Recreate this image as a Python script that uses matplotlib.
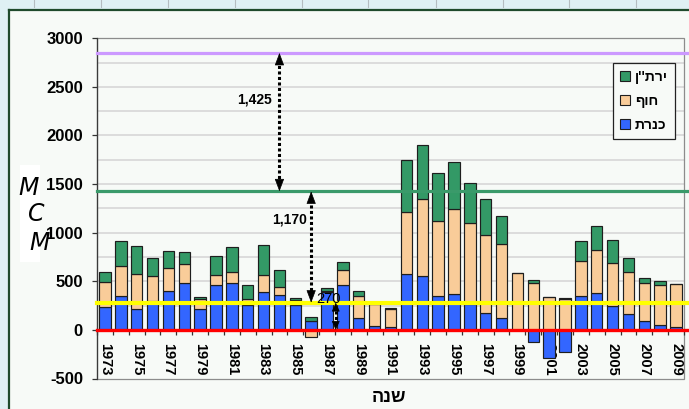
import numpy as np
import matplotlib
matplotlib.use("Agg")
import matplotlib.pyplot as plt
from matplotlib.patches import Rectangle
from matplotlib.lines import Line2D

plt.rcParams["font.family"] = ["Liberation Sans", "DejaVu Sans"]

# ---- data (million cubic metres per year) ----
years = list(range(1973, 2010))
kinneret = [240, 345, 215, 300, 397, 479, 215, 466, 486, 258, 387, 363, 261, 92,
            392, 467, 127, 37, 28, 579, 555, 350, 367, 271, 172, 125, 0, -120,
            -292, -224, 346, 381, 244, 166, 90, 53, 29]
coastal = [250, 310, 356, 251, 236, 199, 100, 102, 113, 64, 178, 79, 51, -78,
           8, 145, 219, 229, 187, 631, 788, 774, 874, 827, 806, 758, 589, 479,
           336, 323, 363, 436, 440, 426, 389, 406, 440]
yarkon = [110, 255, 294, 191, 174, 119, 25, 195, 256, 141, 310, 170, 21, 36,
          35, 89, 59, 8, 8, 536, 560, 492, 488, 416, 369, 289, 0, 38,
          0, 8, 208, 253, 243, 150, 59, 48, 8]
series_names = ["כנרת", "חוף", "ירת''ן"]
series_colors = ["#3366ff", "#f9cc99", "#339966"]

# reference levels and the gaps annotated between them
level_zero = 0
level_low = 280
level_mid = 1425
level_high = 2850
gap_labels = ["1,425", "1,170", "270"]

axis_title = "שנה"
unit_letters = ["M", "C", "M"]


def heb(s):
    """Hebrew runs right-to-left; matplotlib lays glyphs out left-to-right."""
    return s[::-1]


W, H = 689, 409
fig = plt.figure(figsize=(W / 100, H / 100), dpi=100)
fig.patch.set_facecolor("#dff0f4")

# slide panel behind the chart
fig.add_artist(Rectangle((10 / W, 0), 1, 1 - 11 / H, transform=fig.transFigure,
                         facecolor="#f7faf7", edgecolor="none", zorder=0))
fig.add_artist(Line2D([9 / W, 9 / W], [0, 1 - 10 / H], transform=fig.transFigure,
                      color="#1f4a2c", lw=1.6, zorder=1))
fig.add_artist(Line2D([9 / W, 1], [1 - 10 / H, 1 - 10 / H], transform=fig.transFigure,
                      color="#1f4a2c", lw=1.6, zorder=1))
for px in [33.5, 100.7, 167.7, 235, 302, 368.5, 435.7, 502.7, 569, 635.5]:
    fig.add_artist(Line2D([px / W, px / W], [1, 1 - 7 / H], transform=fig.transFigure,
                          color="#b4bcc0", lw=0.8, zorder=1))

ax = fig.add_axes([97 / W, 1 - 378.5 / H, 587 / W, (378.5 - 38.3) / H])
ax.set_facecolor("#f7faf7")
ax.set_xlim(-0.5, len(years) - 0.5)
ax.set_ylim(-500, 3000)

# plot-area frame; the category axis itself sits on zero
for side in ["top", "right", "bottom"]:
    ax.spines[side].set_visible(False)
ax.spines["bottom"].set_position(("data", 0))
ax.spines["left"].set_color("#3a3a3a")
ax.spines["left"].set_linewidth(0.9)
ax.add_patch(Rectangle((0, 0), 1, 1, transform=ax.transAxes, fill=False,
                       edgecolor="#8c8c8c", lw=0.9, zorder=1, clip_on=False))

for v in range(250, 3000, 250):
    ax.axhline(v, color="#d4d4d4", lw=1.1, zorder=0.5)

# stacked bars: positives stack upward from zero, negatives downward
x = np.arange(len(years))
pos_base = np.zeros(len(years))
neg_base = np.zeros(len(years))
handles = []
for vals, color, name in zip([kinneret, coastal, yarkon], series_colors, series_names):
    v = np.array(vals, dtype=float)
    bottom = np.where(v >= 0, pos_base, neg_base)
    ax.bar(x, v, 0.72, bottom=bottom, color=color, edgecolor="#1e1e1e",
           linewidth=0.85, zorder=2)
    pos_base += np.clip(v, 0, None)
    neg_base += np.clip(v, None, 0)
    handles.append(Rectangle((0, 0), 1, 1, facecolor=color, edgecolor="#1e1e1e", lw=0.8))

# reference levels
for lvl, col, lw in [(level_high, "#cc99ff", 2.3), (level_mid, "#3a9a6a", 2.3),
                     (level_low, "#ffff00", 3.0), (level_zero, "#ff0000", 2.4)]:
    ax.axhline(lvl, xmin=0, xmax=1.02, color=col, lw=lw, zorder=3, clip_on=False)


def gap_arrow(xpos, y0, y1, head, hl, hw):
    """Dotted shaft between two levels with a solid head at each end."""
    ax.plot([xpos, xpos], [y0 + head * 0.6, y1 - head * 0.6], color="black",
            lw=2.2, linestyle=(0, (1, 0.8)), dash_capstyle="butt", zorder=4)
    for tip, tail in [(y1, y1 - head), (y0, y0 + head)]:
        ax.annotate("", xy=(xpos, tip), xytext=(xpos, tail),
                    arrowprops=dict(arrowstyle=f"-|>,head_length={hl},head_width={hw}",
                                    color="black", lw=0.5, shrinkA=0, shrinkB=0,
                                    mutation_scale=10),
                    zorder=4)


gap_arrow(11.0, level_mid, level_high, 120, 0.8, 0.3)
gap_arrow(13.0, level_low, level_mid, 120, 0.8, 0.3)
gap_arrow(14.55, level_zero, level_low, 85, 0.55, 0.25)
ax.text(10.53, 2370, gap_labels[0], ha="right", va="center", fontsize=10,
        fontweight="bold", zorder=5)
ax.text(12.72, 1135, gap_labels[1], ha="right", va="center", fontsize=10,
        fontweight="bold", zorder=5)
ax.text(14.07, 315, gap_labels[2], ha="center", va="center", fontsize=10.5,
        zorder=5)

# ticks
ax.set_xticks(x[::2])
ax.set_xticklabels([str(y) for y in years[::2]], rotation=270, fontsize=10.5,
                   fontweight="bold")
ax.set_xticks(np.arange(-0.5, len(years), 1), minor=True)
ax.tick_params(axis="x", which="major", length=0, pad=9.5)
ax.tick_params(axis="x", which="minor", length=3.6, width=0.9, color="#333333",
               direction="out")
ax.set_yticks(range(-500, 3001, 500))
ax.set_yticklabels([str(v) for v in range(-500, 3001, 500)], fontsize=12,
                   fontweight="bold")
ax.tick_params(axis="y", length=3.6, width=0.9, color="#333333", pad=6.5)

leg = ax.legend(handles[::-1], [heb(n) for n in series_names[::-1]],
                loc="upper right", bbox_to_anchor=(0.9847, 0.9274),
                borderaxespad=0, fancybox=False, edgecolor="#222222",
                facecolor="#f7faf7", framealpha=1,
                prop=dict(weight="bold", size=10), handlelength=0.75,
                handleheight=0.75, handletextpad=0.35, labelspacing=0.72,
                borderpad=0.5)
leg.get_frame().set_linewidth(0.9)
leg.set_zorder(6)

# unit label block
fig.add_artist(Rectangle((20 / W, 1 - 262 / H), 20 / W, 97 / H, transform=fig.transFigure,
                         facecolor="white", edgecolor="none", zorder=5))
for ch, (px, py) in zip(unit_letters, [(29, 188), (36, 214), (40, 243)]):
    fig.text(px / W, 1 - py / H, ch, ha="center", va="center", fontsize=17,
             style="italic", family="DejaVu Sans", zorder=6)

fig.text(389 / W, 1 - 397 / H, heb(axis_title), ha="center", va="center",
         fontsize=13, fontweight="bold")

fig.savefig("out.png", dpi=100, facecolor=fig.get_facecolor())
